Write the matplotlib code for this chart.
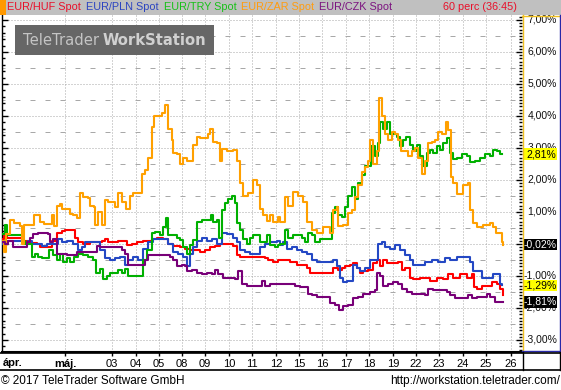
import matplotlib
matplotlib.use('Agg')
import matplotlib.pyplot as plt
from matplotlib.patches import Rectangle
from matplotlib.lines import Line2D
from matplotlib.ticker import MultipleLocator
import matplotlib.transforms as mtrans

plt.rcParams['font.family'] = ['Liberation Sans', 'DejaVu Sans']

# ---------------- data (x = hourly bar index, y = % change) ----------------
day_bars = [63, 110, 134, 157, 180, 203, 227, 250, 274, 297, 320, 344, 367, 391, 414, 437, 461, 484, 509]
day_labels = ['máj.', '03', '04', '05', '08', '09', '10', '11', '12', '15', '16', '17', '18', '19',
              '22', '23', '24', '25', '26']

zar_t = [0, 2, 4, 8, 12, 18, 20, 22, 28, 32,
         36, 38, 42, 48, 50, 52, 55, 58, 60, 65,
         68, 71, 75, 78, 81, 86, 88, 92, 93, 96,
         100, 103, 106, 110, 113, 116, 120, 124, 128, 131,
         136, 140, 143, 146, 150, 152, 156, 160, 163, 166,
         170, 171, 175, 178, 181, 185, 188, 191, 195, 198,
         203, 206, 208, 211, 215, 218, 220, 225, 231, 235,
         238, 241, 246, 251, 255, 258, 261, 265, 268, 271,
         276, 278, 283, 286, 291, 296, 301, 305, 310, 315,
         321, 328, 331, 335, 336, 341, 346, 350, 353, 356,
         360, 363, 366, 368, 371, 375, 377, 380, 383, 386,
         390, 393, 396, 399, 403, 406, 410, 413, 416, 420,
         423, 426, 430, 433, 436, 440, 444, 446, 449, 451,
         455, 460, 461, 466, 468, 471, 475, 481, 488, 491,
         494, 497, 500, 501]
zar_v = [0.1, -0.25, 0.3, 0.75, 0.65, 0.55, 0.0, 0.6, 0.6, 0.9,
         0.9, 0.7, 0.62, 0.62, 0.9, 0.55, 1.2, 1.25, 1.1, 1.1,
         0.94, 0.9, 0.8, 1.6, 1.47, 1.45, 1.2, 1.15, 0.6, 1.0,
         0.6, 1.37, 1.3, 1.3, 1.15, 1.6, 1.3, 1.1, 1.5, 1.6,
         1.6, 2.2, 2.3, 2.7, 3.66, 4.0, 4.0, 4.1, 4.35, 3.6,
         3.25, 2.85, 2.8, 2.5, 2.7, 2.6, 2.6, 3.1, 3.35, 3.3,
         3.3, 3.45, 3.6, 3.2, 3.15, 2.6, 2.98, 2.9, 2.95, 2.6,
         1.9, 1.5, 1.6, 2.0, 1.85, 1.1, 0.9, 0.73, 0.9, 0.7,
         0.84, 0.7, 1.47, 1.2, 1.64, 1.5, 1.3, 0.7, 0.44, 0.35,
         0.54, 0.34, 1.06, 1.15, 0.55, 0.6, 0.96, 1.05, 1.47, 1.84,
         2.25, 2.42, 2.6, 3.25, 2.5, 2.9, 4.55, 4.0, 3.45, 3.25,
         3.5, 3.45, 3.25, 2.9, 2.9, 2.75, 2.9, 3.0, 2.7, 2.2,
         2.6, 3.15, 3.2, 3.25, 3.5, 3.45, 3.82, 3.55, 2.1, 1.9,
         1.55, 1.55, 1.85, 1.9, 1.05, 0.65, 0.54, 0.6, 0.65, 0.54,
         0.34, 0.34, 0.07, -0.02]

try_t = [0, 3, 5, 18, 20, 23, 27, 30, 33, 36,
         40, 45, 47, 51, 55, 58, 61, 65, 68, 72,
         76, 81, 86, 91, 94, 98, 101, 105, 108, 113,
         116, 120, 123, 126, 138, 141, 145, 150, 153, 158,
         161, 164, 166, 175, 178, 181, 185, 188, 191, 195,
         200, 206, 209, 211, 215, 217, 220, 223, 226, 230,
         233, 235, 238, 241, 245, 248, 251, 258, 265, 268,
         273, 276, 278, 283, 286, 291, 300, 303, 306, 310,
         313, 318, 330, 333, 336, 340, 343, 346, 350, 353,
         356, 360, 363, 369, 373, 376, 378, 381, 385, 388,
         395, 398, 401, 404, 408, 411, 415, 418, 421, 425,
         428, 431, 435, 438, 441, 445, 448, 451, 455, 460,
         465, 468, 473, 478, 483, 488, 491, 495, 498, 500]
try_v = [0.3, 0.6, 0.28, 0.28, 0.1, 0.0, 0.0, -0.4, -0.3, -0.4,
         -0.45, -0.45, -0.2, -0.35, -0.5, -0.3, -0.55, -0.45, -0.55, -0.4,
         -0.3, -0.35, -0.4, -0.5, -0.92, -0.77, -1.1, -1.0, -0.92, -0.92,
         -0.81, -0.92, -0.77, -1.0, -1.0, -0.5, -0.2, 0.33, 0.39, 0.28,
         0.54, 0.8, 0.28, 0.2, 0.12, -0.1, -0.3, -0.03, 0.12, 0.7,
         0.74, 0.74, 0.9, 0.7, 0.74, 0.2, 1.06, 1.27, 1.4, 1.5,
         1.27, 0.65, 0.44, 0.17, 0.0, 0.2, 0.28, 0.06, 0.28, -0.03,
         -0.1, -0.03, 0.0, 0.44, 0.2, 0.28, 0.2, 0.06, 0.33, 0.28,
         0.06, 0.17, 0.96, 1.17, 0.9, 0.85, 1.17, 1.5, 1.77, 1.4,
         1.9, 2.15, 2.45, 3.05, 2.75, 3.15, 3.8, 3.6, 3.8, 3.45,
         3.35, 3.05, 3.25, 3.35, 3.1, 2.9, 3.1, 2.75, 2.45, 2.85,
         2.95, 2.85, 3.05, 2.95, 3.15, 3.3, 2.85, 2.65, 2.7, 2.8,
         2.75, 2.55, 2.6, 2.7, 2.8, 2.75, 2.95, 2.9, 2.8, 2.81]

huf_t = [0, 2, 5, 18, 21, 26, 35, 38, 46, 50,
         55, 60, 63, 70, 73, 76, 81, 88, 100, 103,
         106, 116, 121, 125, 130, 135, 141, 150, 155, 161,
         166, 171, 178, 183, 188, 198, 203, 208, 213, 218,
         231, 235, 238, 258, 263, 266, 271, 276, 288, 295,
         305, 308, 328, 331, 336, 340, 343, 348, 351, 355,
         358, 361, 366, 371, 375, 378, 381, 385, 396, 400,
         403, 408, 411, 418, 428, 435, 441, 446, 451, 458,
         465, 470, 472, 475, 480, 490, 495, 498, 501]
huf_v = [0.15, 0.3, 0.2, 0.2, 0.1, 0.04, 0.0, -0.1, -0.1, 0.1,
         0.35, 0.4, 0.44, 0.44, 0.2, 0.05, 0.0, 0.05, 0.1, 0.15,
         0.05, 0.1, 0.1, -0.03, 0.0, 0.05, 0.1, 0.15, 0.2, 0.15,
         0.0, -0.05, -0.1, -0.15, -0.2, -0.25, -0.2, -0.1, -0.05, 0.0,
         -0.05, -0.35, -0.4, -0.4, -0.45, -0.5, -0.55, -0.5, -0.55, -0.65,
         -0.75, -0.9, -0.9, -0.75, -0.8, -0.75, -0.7, -0.65, -0.6, -0.75,
         -0.9, -0.85, -0.8, -0.6, -0.5, -0.7, -0.5, -0.6, -0.55, -0.8,
         -0.75, -1.05, -1.1, -1.05, -1.15, -1.05, -1.1, -0.95, -1.05, -0.95,
         -1.05, -0.95, -1.35, -1.4, -1.3, -1.2, -1.25, -1.4, -1.6]

pln_t = [0, 3, 18, 21, 26, 30, 40, 45, 56, 60,
         65, 71, 76, 80, 83, 93, 98, 103, 108, 113,
         118, 123, 126, 131, 136, 141, 146, 151, 163, 166,
         171, 176, 181, 185, 188, 191, 195, 200, 205, 210,
         215, 220, 225, 231, 235, 238, 243, 248, 258, 263,
         268, 275, 278, 281, 285, 290, 295, 300, 305, 310,
         315, 331, 335, 338, 341, 345, 351, 355, 358, 363,
         368, 376, 380, 383, 388, 393, 398, 403, 408, 411,
         423, 430, 436, 443, 448, 455, 468, 471, 480, 491,
         498, 500]
pln_v = [0.0, 0.1, 0.1, 0.0, 0.1, 0.0, -0.05, 0.0, 0.15, 0.05,
         0.1, 0.0, -0.2, -0.1, 0.05, 0.05, -0.2, -0.45, -0.5, -0.45,
         -0.4, -0.65, -0.5, -0.4, -0.5, -0.15, 0.05, 0.15, 0.15, 0.0,
         -0.25, -0.3, -0.4, -0.7, -0.3, -0.1, 0.1, 0.2, 0.1, 0.15,
         0.0, 0.35, 0.3, 0.2, 0.05, -0.2, -0.25, -0.3, -0.1, 0.0,
         0.05, 0.1, -0.03, 0.06, -0.15, -0.1, -0.2, -0.25, -0.3, -0.5,
         -0.55, -0.5, -0.7, -1.05, -1.2, -1.15, -0.65, -0.75, -0.85, -0.75,
         -0.5, 0.0, 0.06, -0.1, -0.15, -0.03, -0.2, -0.35, -0.5, -0.65,
         -0.55, -0.5, -0.55, -0.45, -0.5, -0.4, -0.55, -0.85, -1.05, -0.95,
         -1.25, -1.29]

czk_t = [0, 3, 6, 11, 22, 25, 28, 31, 36, 46,
         48, 51, 55, 65, 75, 91, 95, 98, 115, 120,
         123, 126, 140, 143, 146, 165, 168, 171, 175, 180,
         183, 185, 190, 195, 200, 205, 210, 213, 216, 221,
         233, 236, 240, 245, 260, 263, 268, 293, 298, 306,
         310, 315, 328, 333, 337, 341, 346, 351, 356, 361,
         368, 373, 375, 378, 381, 386, 391, 396, 400, 405,
         410, 423, 426, 431, 445, 448, 453, 466, 470, 475,
         485, 488, 493, 496, 501]
czk_v = [0.05, 0.0, 0.1, -0.1, -0.1, 0.05, 0.2, 0.3, 0.35, 0.3,
         0.05, 0.15, -0.3, -0.35, -0.25, -0.25, -0.05, -0.1, -0.1, -0.2,
         -0.3, -0.65, -0.65, -0.5, -0.35, -0.35, -0.4, -0.5, -0.7, -0.65,
         -0.7, -0.85, -0.8, -0.9, -0.95, -0.9, -0.95, -0.8, -0.95, -1.05,
         -1.1, -0.85, -1.25, -1.3, -1.15, -1.3, -1.25, -1.3, -1.35, -1.55,
         -1.6, -1.65, -1.85, -1.9, -2.05, -1.95, -1.9, -1.7, -1.65, -1.55,
         -1.5, -1.45, -0.9, -1.0, -1.3, -1.25, -1.2, -1.25, -1.4, -1.5,
         -1.55, -1.6, -1.4, -1.45, -1.5, -1.6, -1.7, -1.6, -1.7, -1.65,
         -1.55, -1.65, -1.8, -1.8, -1.81]

series_names = ['EUR/HUF Spot', 'EUR/PLN Spot', 'EUR/TRY Spot', 'EUR/ZAR Spot', 'EUR/CZK Spot']
series_colors = ['#ff0000', '#2448c4', '#00b000', '#ffa000', '#780078']
header_colors = ['#e8102a', '#2c44c0', '#18c018', '#ff9c10', '#7c1480']
interval_label = '60 perc (36:45)'
value_ticks = [-3, -2, -1, 1, 2, 3, 4, 5, 6, 7]

# last-value badges: (series index, background, text colour)
badges = [(2, '#ffff00', 'black'), (3, 'black', 'white'), (1, '#ffff00', 'black'), (4, 'black', 'white')]

# ---------------- figure ----------------
W, H = 561, 390
fig = plt.figure(figsize=(W / 100, H / 100), dpi=100)
fx = lambda p: p / W
fy = lambda p: 1 - p / H

ax = fig.add_axes([fx(2), fy(352), 520 / W, 337 / H])
ax.set_xlim(0, 520)
ax.set_ylim(-3.375, 7.156)
ax.set_facecolor('white')

grid_c = '#a8a8a8'
for v in range(-3, 8):
    ax.axhline(v, color=grid_c, lw=0.72, ls=(0, (1, 2)), zorder=1)
for k in range(-3, 7):
    ax.axhline(k + 0.5, color=grid_c, lw=0.72, ls=(2, (5, 10)), zorder=1)
for b in day_bars:
    ax.axvline(b, color=grid_c, lw=0.72, ls=(0, (1, 2)), zorder=1)

ts = [huf_t, pln_t, try_t, zar_t, czk_t]
vs = [huf_v, pln_v, try_v, zar_v, czk_v]
for i in [0, 1, 2, 3, 4]:
    ax.step(ts[i], vs[i], where='post', color=series_colors[i], lw=1.5, zorder=3)

for s in ['top', 'right']:
    ax.spines[s].set_visible(False)
ax.spines['left'].set_color('black')
ax.spines['left'].set_linewidth(1.0)
ax.spines['bottom'].set_color('black')
ax.spines['bottom'].set_linewidth(1.5)

ax.set_xticks(day_bars)
ax.set_xticklabels(day_labels)
ax.tick_params(axis='x', direction='out', length=3, width=1, pad=2, labelsize=8, colors='black')
ax.get_xticklabels()[0].set_fontweight('bold')

ax.yaxis.set_major_locator(MultipleLocator(1))
ax.yaxis.set_minor_locator(MultipleLocator(0.2))
ax.tick_params(axis='y', which='major', direction='in', length=4.5, width=1, left=True, labelleft=False)
ax.tick_params(axis='y', which='minor', direction='in', length=2.5, width=1, left=True)

ax2 = ax.twinx()
ax2.set_ylim(ax.get_ylim())
ax2.yaxis.set_major_locator(MultipleLocator(1))
ax2.yaxis.set_minor_locator(MultipleLocator(0.1))
ax2.tick_params(axis='y', which='major', direction='in', length=4.5, width=1, labelright=False)
ax2.tick_params(axis='y', which='minor', direction='in', length=2.5, width=1)
for s in ax2.spines.values():
    s.set_visible(False)

# month label at left
tx = mtrans.blended_transform_factory(ax.transData, fig.transFigure)
ax.text(1, fy(363), 'ápr.', transform=tx, ha='left', va='center', fontsize=8,
        fontweight='bold', clip_on=False)

# right value axis labels
tr = mtrans.blended_transform_factory(fig.transFigure, ax.transData)
for v in value_ticks:
    ax.text(fx(557), v, ('%.2f%%' % v).replace('.', ','), transform=tr, ha='right', va='center',
            fontsize=7.5, color='#101010', clip_on=False, zorder=5)

for idx, bg, fg in badges:
    val = vs[idx][-1]
    ax.add_patch(Rectangle((fx(523), val - 0.175), 34 / W, 0.35, transform=tr, facecolor=bg,
                           edgecolor='none', clip_on=False, zorder=6))
    ax.text(fx(556.5), val, ('%.2f%%' % val).replace('.', ','), transform=tr, ha='right',
            va='center', fontsize=7.5, color=fg, clip_on=False, zorder=7)

# header bar
fig.patches.append(Rectangle((0, fy(15)), 1, 15 / H, transform=fig.transFigure,
                             facecolor='#c0c0c0', edgecolor='none', zorder=1))
fig.patches.append(Rectangle((0, fy(15)), 6 / W, 15 / H, transform=fig.transFigure,
                             facecolor='#ff9900', edgecolor='none', zorder=1.5))

renderer = fig.canvas.get_renderer()
x = 7
for name, c in zip(series_names, header_colors):
    t = fig.text(fx(x), fy(7.5), name, fontsize=7.8, color=c, va='center', ha='left')
    bb = t.get_window_extent(renderer)
    x = bb.x1 + 5
fig.text(fx(517), fy(7.5), interval_label, fontsize=7.8, color='#e8102a', va='center', ha='right')

# right panel borders
def fline(x0, y0, x1, y1, c, lw):
    fig.lines.append(Line2D([fx(x0), fx(x1)], [fy(y0), fy(y1)], transform=fig.transFigure,
                            color=c, lw=lw, zorder=4))

fline(522.5, 15, 522.5, 352, '#f0c020', 1.0)
fline(522, 15.5, 559, 15.5, '#f0c020', 1.0)
fline(559.5, 15, 559.5, 352, '#2828a8', 1.0)
fline(522, 351.0, 560, 351.0, '#2828a8', 1.0)
fline(0, 352.5, 561, 352.5, 'black', 1.2)
fline(0, 369.5, 561, 369.5, 'black', 1.2)
fline(522.5, 352, 522.5, 370, 'black', 1.0)
fline(559.5, 352, 559.5, 370, 'black', 1.0)

# watermark
fig.patches.append(Rectangle((fx(15), fy(55)), 199 / W, 30 / H, transform=fig.transFigure,
                             facecolor='#666666', edgecolor='none', zorder=2))
fs = 14
t1 = fig.text(fx(23), fy(40.5), 'TeleTrader', fontsize=fs, color='#c4c4c4', va='center',
              ha='left', family='DejaVu Sans', zorder=3)
t2 = fig.text(0, fy(40.5), 'WorkStation', fontsize=fs, color='#d0d0d0', va='center',
              ha='left', family='DejaVu Sans', fontweight='bold', zorder=3)
for _ in range(3):
    b1 = t1.get_window_extent(renderer)
    t2.set_x(fx(b1.x1 + fs * 0.3))
    b2 = t2.get_window_extent(renderer)
    total = b2.x1 - b1.x0
    fs = fs * 183 / total
    t1.set_fontsize(fs)
    t2.set_fontsize(fs)
b1 = t1.get_window_extent(renderer)
t2.set_x(fx(b1.x1 + fs * 0.3))

# footer
fig.text(fx(1), fy(381), '© 2017 TeleTrader Software GmbH', fontsize=8.5, va='center', ha='left')
fig.text(fx(560), fy(381), 'http://workstation.teletrader.com/', fontsize=8.5, va='center', ha='right')

fig.savefig('out.png', dpi=100)
